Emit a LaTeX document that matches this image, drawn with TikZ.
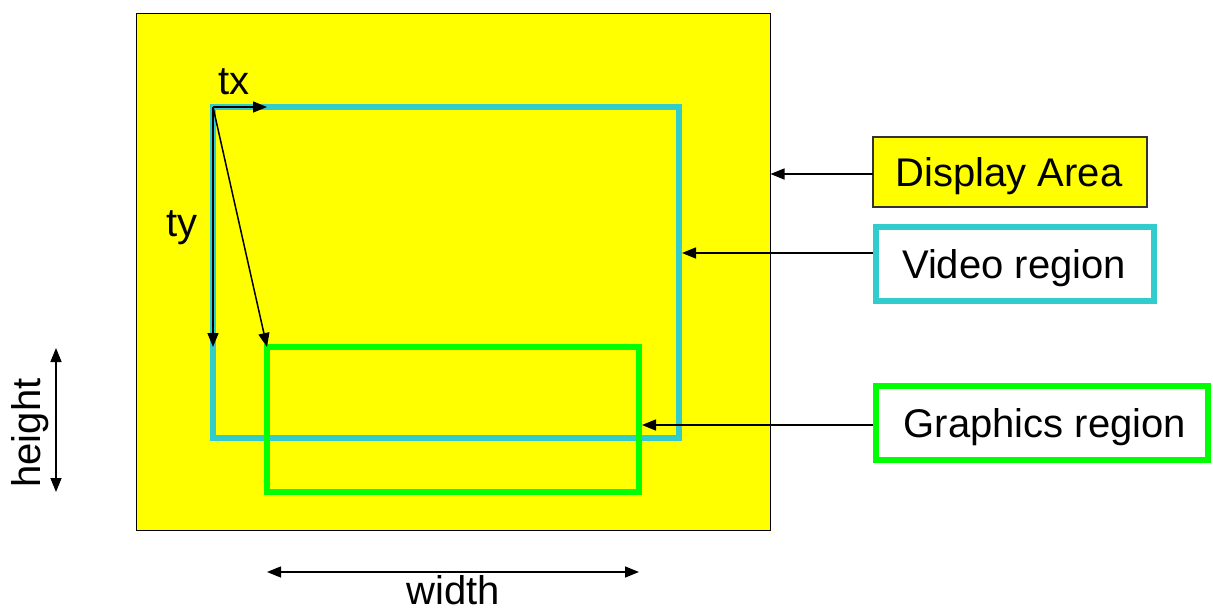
\documentclass[tikz,border=0pt]{standalone}
\usepackage{fontspec}
\setmainfont{Liberation Sans}
\usetikzlibrary{arrows.meta}
\definecolor{vcyan}{RGB}{51,204,204}
\definecolor{ggreen}{RGB}{0,255,0}
\definecolor{dyellow}{RGB}{255,255,0}
\begin{document}
\begin{tikzpicture}[x=1pt,y=-1pt,
  lbl/.style={font=\fontsize{40}{48}\selectfont, inner sep=0pt},
  arr/.style={line width=1.5pt, -{Triangle[length=14pt,width=11pt]}},
  darr/.style={line width=1.5pt, {Triangle[length=14pt,width=11pt]}-{Triangle[length=14pt,width=11pt]}},
  region/.style={line width=6pt, inner sep=0pt, outer sep=0pt, anchor=north west},
  labelbox/.style={inner sep=0pt, outer sep=0pt, minimum height=74pt}]
\useasboundingbox (0,0) rectangle (1213,610);
% display area
\node[draw=black, line width=1pt, fill=dyellow, anchor=north west, minimum width=634pt, minimum height=516pt, inner sep=0pt, outer sep=0pt] (disp) at (136,14) {};
% video region
\node[region, draw=vcyan, minimum width=466pt, minimum height=331pt] (video) at (213,107) {};
% graphics region
\node[region, draw=ggreen, minimum width=372pt, minimum height=145pt] (gfx) at (267,347) {};
% offset arrows
\draw[arr] (video.north west) -- (video.north west -| gfx.north west);
\draw[arr] (video.north west) -- (video.north west |- gfx.north west);
\draw[arr] (video.north west) -- (gfx.north west);
\node[lbl] (tx) at (234,82) {tx};
\node[lbl] (ty) at (182,228) {ty};
% labels on the right
\node[labelbox, draw=black!80, line width=1.5pt, fill=dyellow, minimum width=274pt, minimum height=70pt] (dal) at (1010,172) {};
\node[lbl] (daltext) at (1009,176) {Display Area};
\node[labelbox, draw=vcyan, line width=6pt, fill=white, minimum width=278pt] (vl) at (1015,264) {};
\node[lbl] (vltext) at (1014,268) {Video region};
\node[labelbox, draw=ggreen, line width=6pt, fill=white, minimum width=332pt] (gl) at (1042,423) {};
\node[lbl] (gltext) at (1045,427) {Graphics region};
\coordinate (da) at (0,174);
\coordinate (va) at (0,253);
\coordinate (ga) at (0,425);
\draw[arr] (dal.west |- da) -- ([xshift=0.5pt]disp.east |- da);
\draw[arr] ([xshift=-3pt]vl.west |- va) -- ([xshift=3pt]video.east |- va);
\draw[arr] ([xshift=-3pt]gl.west |- ga) -- ([xshift=3pt]gfx.east |- ga);
% height and width
\coordinate (h1) at (56,348);
\coordinate (h2) at (56,492);
\draw[darr] (h1) -- (h2);
\node[lbl, rotate=90] (htext) at (30,433) {height};
\coordinate (w1) at (267,572);
\coordinate (w2) at (639,572);
\draw[darr] (w1) -- (w2);
\node[lbl] (wtext) at (453,590) {width};
\end{tikzpicture}
\end{document}
